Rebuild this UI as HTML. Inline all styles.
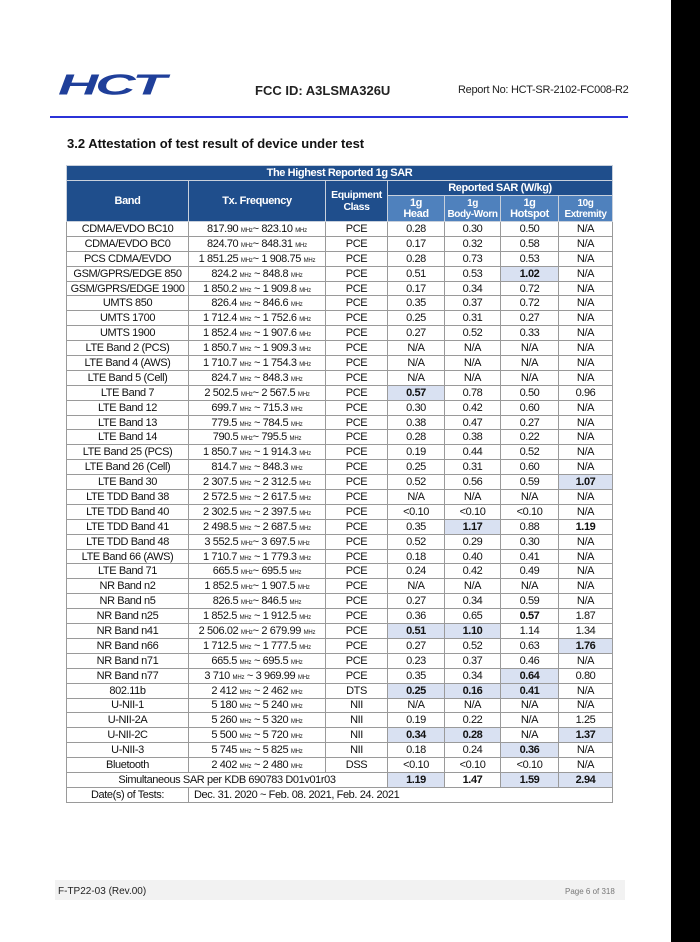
<!DOCTYPE html>
<html><head><meta charset="utf-8"><style>
body{margin:0;width:700px;height:942px;background:#fff;position:relative;overflow:hidden;font-family:"Liberation Sans",Arial,sans-serif;}
.blk{position:absolute;left:671px;top:0;width:29px;height:942px;background:#000;}
.logo{position:absolute;left:58px;top:68px;font-size:36px;font-weight:bold;font-style:italic;color:#1f3f9a;transform:scale(1.55,0.8);transform-origin:left top;letter-spacing:-2px;}
.fcc{position:absolute;left:255px;top:83px;font-size:13px;font-weight:bold;color:#222;}
.rep{position:absolute;left:458px;top:84px;font-size:11px;color:#222;letter-spacing:-0.3px;}
.line{position:absolute;left:50px;top:116px;width:578px;height:2px;background:#2b32d8;}
.sec{position:absolute;left:67px;top:136px;font-size:13px;font-weight:bold;color:#111;}
table{position:absolute;left:66px;top:165px;border-collapse:collapse;table-layout:fixed;width:546px;font-size:11px;color:#111;letter-spacing:-0.4px;}
td{border:1px solid #9a9a9a;text-align:center;padding:0;height:13.9px;line-height:12px;white-space:nowrap;overflow:hidden;}
.h td{background:#1f4e8c;color:#fff;font-weight:bold;border-color:#c8d0dc;}
.h td.s{background:#4f81bd;}
.m{font-size:6px;line-height:0;letter-spacing:-0.2px;}
.b{font-weight:bold;}
.hl{background:#d9e1f2;font-weight:bold;}
.foot{position:absolute;left:55px;top:880px;width:570px;height:20px;background:#f2f2f2;}
.fl{position:absolute;left:58px;top:886px;font-size:10px;color:#222;}
.fr{position:absolute;left:565px;top:887px;font-size:8px;color:#777;}
</style></head><body>
<div class="blk"></div>
<div class="logo">HCT</div>
<div class="fcc">FCC ID: A3LSMA326U</div>
<div class="rep">Report No: HCT-SR-2102-FC008-R2</div>
<div class="line"></div>
<div class="sec">3.2 Attestation of test result of device under test</div>
<table>
<colgroup><col style="width:122px"><col style="width:137px"><col style="width:62px"><col style="width:57px"><col style="width:56px"><col style="width:58px"><col style="width:54px"></colgroup>
<tr class="h"><td colspan="7" style="height:14px">The Highest Reported 1g SAR</td></tr>
<tr class="h"><td rowspan="2">Band</td><td rowspan="2">Tx. Frequency</td><td rowspan="2" style="font-size:10.5px">Equipment<br>Class</td><td colspan="4" style="height:14px">Reported SAR (W/kg)</td></tr>
<tr class="h"><td class="s" style="height:25px;line-height:11px">1g<br>Head</td><td class="s" style="line-height:11px;font-size:10px">1g<br>Body-Worn</td><td class="s" style="line-height:11px">1g<br>Hotspot</td><td class="s" style="line-height:11px;font-size:10px">10g<br>Extremity</td></tr>
<tr><td>CDMA/EVDO BC10</td><td>817.90 <span class="m">MHz</span>~ 823.10 <span class="m">MHz</span></td><td>PCE</td><td>0.28</td><td>0.30</td><td>0.50</td><td>N/A</td></tr>
<tr><td>CDMA/EVDO BC0</td><td>824.70 <span class="m">MHz</span>~ 848.31 <span class="m">MHz</span></td><td>PCE</td><td>0.17</td><td>0.32</td><td>0.58</td><td>N/A</td></tr>
<tr><td>PCS CDMA/EVDO</td><td>1 851.25 <span class="m">MHz</span>~ 1 908.75 <span class="m">MHz</span></td><td>PCE</td><td>0.28</td><td>0.73</td><td>0.53</td><td>N/A</td></tr>
<tr><td>GSM/GPRS/EDGE 850</td><td>824.2 <span class="m">MHz</span> ~ 848.8 <span class="m">MHz</span></td><td>PCE</td><td>0.51</td><td>0.53</td><td class="hl">1.02</td><td>N/A</td></tr>
<tr><td>GSM/GPRS/EDGE 1900</td><td>1 850.2 <span class="m">MHz</span> ~ 1 909.8 <span class="m">MHz</span></td><td>PCE</td><td>0.17</td><td>0.34</td><td>0.72</td><td>N/A</td></tr>
<tr><td>UMTS 850</td><td>826.4 <span class="m">MHz</span> ~ 846.6 <span class="m">MHz</span></td><td>PCE</td><td>0.35</td><td>0.37</td><td>0.72</td><td>N/A</td></tr>
<tr><td>UMTS 1700</td><td>1 712.4 <span class="m">MHz</span> ~ 1 752.6 <span class="m">MHz</span></td><td>PCE</td><td>0.25</td><td>0.31</td><td>0.27</td><td>N/A</td></tr>
<tr><td>UMTS 1900</td><td>1 852.4 <span class="m">MHz</span> ~ 1 907.6 <span class="m">MHz</span></td><td>PCE</td><td>0.27</td><td>0.52</td><td>0.33</td><td>N/A</td></tr>
<tr><td>LTE Band 2 (PCS)</td><td>1 850.7 <span class="m">MHz</span> ~ 1 909.3 <span class="m">MHz</span></td><td>PCE</td><td>N/A</td><td>N/A</td><td>N/A</td><td>N/A</td></tr>
<tr><td>LTE Band 4 (AWS)</td><td>1 710.7 <span class="m">MHz</span> ~ 1 754.3 <span class="m">MHz</span></td><td>PCE</td><td>N/A</td><td>N/A</td><td>N/A</td><td>N/A</td></tr>
<tr><td>LTE Band 5 (Cell)</td><td>824.7 <span class="m">MHz</span> ~ 848.3 <span class="m">MHz</span></td><td>PCE</td><td>N/A</td><td>N/A</td><td>N/A</td><td>N/A</td></tr>
<tr><td>LTE Band 7</td><td>2 502.5 <span class="m">MHz</span>~ 2 567.5 <span class="m">MHz</span></td><td>PCE</td><td class="hl">0.57</td><td>0.78</td><td>0.50</td><td>0.96</td></tr>
<tr><td>LTE Band 12</td><td>699.7 <span class="m">MHz</span> ~ 715.3 <span class="m">MHz</span></td><td>PCE</td><td>0.30</td><td>0.42</td><td>0.60</td><td>N/A</td></tr>
<tr><td>LTE Band 13</td><td>779.5 <span class="m">MHz</span> ~ 784.5 <span class="m">MHz</span></td><td>PCE</td><td>0.38</td><td>0.47</td><td>0.27</td><td>N/A</td></tr>
<tr><td>LTE Band 14</td><td>790.5 <span class="m">MHz</span>~ 795.5 <span class="m">MHz</span></td><td>PCE</td><td>0.28</td><td>0.38</td><td>0.22</td><td>N/A</td></tr>
<tr><td>LTE Band 25 (PCS)</td><td>1 850.7 <span class="m">MHz</span> ~ 1 914.3 <span class="m">MHz</span></td><td>PCE</td><td>0.19</td><td>0.44</td><td>0.52</td><td>N/A</td></tr>
<tr><td>LTE Band 26 (Cell)</td><td>814.7 <span class="m">MHz</span> ~ 848.3 <span class="m">MHz</span></td><td>PCE</td><td>0.25</td><td>0.31</td><td>0.60</td><td>N/A</td></tr>
<tr><td>LTE Band 30</td><td>2 307.5 <span class="m">MHz</span> ~ 2 312.5 <span class="m">MHz</span></td><td>PCE</td><td>0.52</td><td>0.56</td><td>0.59</td><td class="hl">1.07</td></tr>
<tr><td>LTE TDD Band 38</td><td>2 572.5 <span class="m">MHz</span> ~ 2 617.5 <span class="m">MHz</span></td><td>PCE</td><td>N/A</td><td>N/A</td><td>N/A</td><td>N/A</td></tr>
<tr><td>LTE TDD Band 40</td><td>2 302.5 <span class="m">MHz</span> ~ 2 397.5 <span class="m">MHz</span></td><td>PCE</td><td>&lt;0.10</td><td>&lt;0.10</td><td>&lt;0.10</td><td>N/A</td></tr>
<tr><td>LTE TDD Band 41</td><td>2 498.5 <span class="m">MHz</span> ~ 2 687.5 <span class="m">MHz</span></td><td>PCE</td><td>0.35</td><td class="hl">1.17</td><td>0.88</td><td class="b">1.19</td></tr>
<tr><td>LTE TDD Band 48</td><td>3 552.5 <span class="m">MHz</span>~ 3 697.5 <span class="m">MHz</span></td><td>PCE</td><td>0.52</td><td>0.29</td><td>0.30</td><td>N/A</td></tr>
<tr><td>LTE Band 66 (AWS)</td><td>1 710.7 <span class="m">MHz</span> ~ 1 779.3 <span class="m">MHz</span></td><td>PCE</td><td>0.18</td><td>0.40</td><td>0.41</td><td>N/A</td></tr>
<tr><td>LTE Band 71</td><td>665.5 <span class="m">MHz</span>~ 695.5 <span class="m">MHz</span></td><td>PCE</td><td>0.24</td><td>0.42</td><td>0.49</td><td>N/A</td></tr>
<tr><td>NR Band n2</td><td>1 852.5 <span class="m">MHz</span>~ 1 907.5 <span class="m">MHz</span></td><td>PCE</td><td>N/A</td><td>N/A</td><td>N/A</td><td>N/A</td></tr>
<tr><td>NR Band n5</td><td>826.5 <span class="m">MHz</span>~ 846.5 <span class="m">MHz</span></td><td>PCE</td><td>0.27</td><td>0.34</td><td>0.59</td><td>N/A</td></tr>
<tr><td>NR Band n25</td><td>1 852.5 <span class="m">MHz</span> ~ 1 912.5 <span class="m">MHz</span></td><td>PCE</td><td>0.36</td><td>0.65</td><td class="b">0.57</td><td>1.87</td></tr>
<tr><td>NR Band n41</td><td>2 506.02 <span class="m">MHz</span>~ 2 679.99 <span class="m">MHz</span></td><td>PCE</td><td class="hl">0.51</td><td class="hl">1.10</td><td>1.14</td><td>1.34</td></tr>
<tr><td>NR Band n66</td><td>1 712.5 <span class="m">MHz</span> ~ 1 777.5 <span class="m">MHz</span></td><td>PCE</td><td>0.27</td><td>0.52</td><td>0.63</td><td class="hl">1.76</td></tr>
<tr><td>NR Band n71</td><td>665.5 <span class="m">MHz</span> ~ 695.5 <span class="m">MHz</span></td><td>PCE</td><td>0.23</td><td>0.37</td><td>0.46</td><td>N/A</td></tr>
<tr><td>NR Band n77</td><td>3 710 <span class="m">MHz</span> ~ 3 969.99 <span class="m">MHz</span></td><td>PCE</td><td>0.35</td><td>0.34</td><td class="hl">0.64</td><td>0.80</td></tr>
<tr><td>802.11b</td><td>2 412 <span class="m">MHz</span> ~ 2 462 <span class="m">MHz</span></td><td>DTS</td><td class="hl">0.25</td><td class="hl">0.16</td><td class="hl">0.41</td><td>N/A</td></tr>
<tr><td>U-NII-1</td><td>5 180 <span class="m">MHz</span> ~ 5 240 <span class="m">MHz</span></td><td>NII</td><td>N/A</td><td>N/A</td><td>N/A</td><td>N/A</td></tr>
<tr><td>U-NII-2A</td><td>5 260 <span class="m">MHz</span> ~ 5 320 <span class="m">MHz</span></td><td>NII</td><td>0.19</td><td>0.22</td><td>N/A</td><td>1.25</td></tr>
<tr><td>U-NII-2C</td><td>5 500 <span class="m">MHz</span> ~ 5 720 <span class="m">MHz</span></td><td>NII</td><td class="hl">0.34</td><td class="hl">0.28</td><td>N/A</td><td class="hl">1.37</td></tr>
<tr><td>U-NII-3</td><td>5 745 <span class="m">MHz</span> ~ 5 825 <span class="m">MHz</span></td><td>NII</td><td>0.18</td><td>0.24</td><td class="hl">0.36</td><td>N/A</td></tr>
<tr><td>Bluetooth</td><td>2 402 <span class="m">MHz</span> ~ 2 480 <span class="m">MHz</span></td><td>DSS</td><td>&lt;0.10</td><td>&lt;0.10</td><td>&lt;0.10</td><td>N/A</td></tr>
<tr><td colspan="3">Simultaneous SAR per KDB 690783 D01v01r03</td><td class="hl">1.19</td><td class="b">1.47</td><td class="hl">1.59</td><td class="hl">2.94</td></tr>
<tr><td>Date(s) of Tests:</td><td colspan="6" style="text-align:left;padding-left:5px">Dec. 31. 2020 ~ Feb. 08. 2021, Feb. 24. 2021</td></tr>
</table>
<div class="foot"></div>
<div class="fl">F-TP22-03 (Rev.00)</div>
<div class="fr">Page 6 of 318</div>
</body></html>
